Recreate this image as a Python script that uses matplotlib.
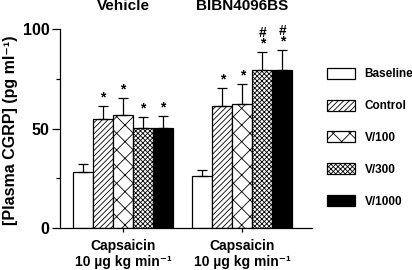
import matplotlib
matplotlib.use("Agg")
import matplotlib.pyplot as plt
from matplotlib.patches import Patch
import numpy as np

plt.rcParams['font.family'] = ['Liberation Sans', 'DejaVu Sans']
plt.rcParams['font.weight'] = 'bold'
plt.rcParams['hatch.linewidth'] = 0.6

groups = ["Vehicle", "BIBN4096BS"]
series = ["Baseline", "Control", "V/100", "V/300", "V/1000"]
means = {
    "Baseline": [28.4, 26.3],
    "Control": [54.8, 61.4],
    "V/100": [56.6, 62.5],
    "V/300": [50.3, 79.4],
    "V/1000": [50.3, 79.4],
}
errs = {
    "Baseline": [3.9, 3.2],
    "Control": [6.6, 9.0],
    "V/100": [8.9, 9.9],
    "V/300": [5.3, 9.0],
    "V/1000": [6.1, 10.0],
}
marks = {
    "Baseline": ["", ""],
    "Control": ["*", "*"],
    "V/100": ["*", "*"],
    "V/300": ["*", "#\n*"],
    "V/1000": ["*", "#\n*"],
}
xtick_label = "Capsaicin\n10 \u00b5g kg min\u207b\u00b9"
ylabel = "[Plasma CGRP] (pg ml\u207b\u00b9)"

styles = {
    "Baseline": dict(facecolor="white", hatch=None),
    "Control": dict(facecolor="white", hatch="//////"),
    "V/100": dict(facecolor="white", hatch="xx"),
    "V/300": dict(facecolor="white", hatch="xxxxxxx"),
    "V/1000": dict(facecolor="black", hatch=None),
}

fig = plt.figure(figsize=(4.12, 2.70), dpi=100)
ax = fig.add_axes([60/412, (270-228.3)/270, (312-60)/412, (228.3-29)/270])

centers = np.array([3.15, 9.125])
for i, s in enumerate(series):
    x = centers + (i - 2)
    ax.bar(x, means[s], width=1.0, edgecolor="black", linewidth=0.9,
           **styles[s], zorder=2)
    ax.errorbar(x, means[s], yerr=[np.zeros(2), errs[s]], fmt="none",
                ecolor="black", elinewidth=0.9, capsize=3.5, capthick=0.9, zorder=3)
    for xi, m, e, t in zip(x, means[s], errs[s], marks[s]):
        if t:
            ax.text(xi, m + e + 0.8, t, ha="center", va="bottom",
                    fontsize=10, fontweight="bold", linespacing=0.7)

ax.set_xlim(0, 12.6)
ax.set_ylim(0, 100)
ax.set_xticks(centers)
ax.set_xticklabels([xtick_label, xtick_label], fontsize=10, fontweight="bold",
                   linespacing=1.15)
ax.set_yticks([0, 50, 100])
ax.set_yticks([25, 75], minor=True)
ax.set_yticklabels(["0", "50", "100"], fontsize=11.5, fontweight="bold")
ax.tick_params(axis="y", which="major", length=6, width=0.9, pad=1.5)
ax.tick_params(axis="y", which="minor", length=3, width=0.9)
ax.tick_params(axis="x", length=3, width=0.9, pad=5)
ax.spines["top"].set_visible(False)
ax.spines["right"].set_visible(False)
ax.spines["left"].set_linewidth(0.9)
ax.spines["bottom"].set_linewidth(0.9)
ax.set_ylabel(ylabel, fontsize=11.5, fontweight="bold")
ax.yaxis.set_label_coords((18 - 60) / 252, 0.493)

for c, g in zip(centers, groups):
    ax.text(c, 1.093, g, transform=ax.get_xaxis_transform(), ha="center",
            va="baseline", fontsize=11, fontweight="bold")

handles = [Patch(edgecolor="black", linewidth=0.9, **styles[s]) for s in series]
fig.legend(handles, series, loc="upper left", bbox_to_anchor=(322/412, 1 - 63/270),
           frameon=False, fontsize=8.5, handlelength=2.4, handleheight=1.05,
           labelspacing=1.64, handletextpad=0.8, borderaxespad=0)

fig.savefig("out.png", dpi=100)
